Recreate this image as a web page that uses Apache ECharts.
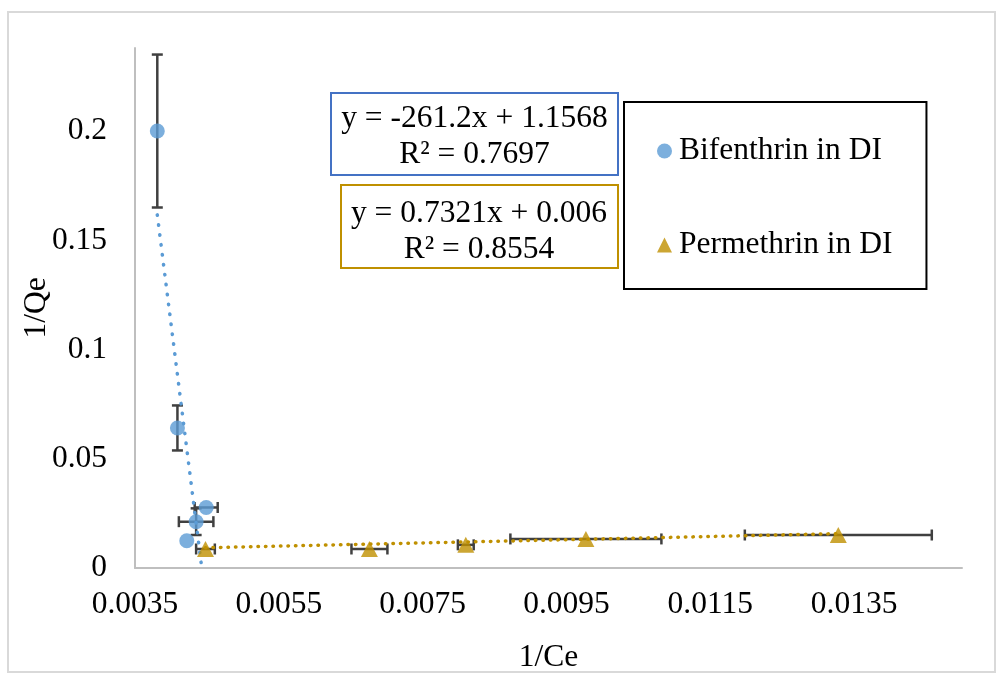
<!DOCTYPE html>
<html>
<head>
<meta charset="utf-8">
<script src="https://cdn.jsdelivr.net/npm/echarts@6/dist/echarts.min.js"></script>
<style>
  html, body { margin: 0; padding: 0; background: #fff; }
  #chart { width: 1002px; height: 676px; }
</style>
</head>
<body>
<div id="chart"></div>
<script>
// Series names
const seriesNames = ['Bifenthrin in DI', 'Permethrin in DI'];

// Bifenthrin in DI: 1/Ce, 1/Qe and their error half-widths
const bifX    = [0.00381, 0.00409, 0.00449, 0.00435, 0.00422];
const bifY    = [0.2, 0.0641, 0.0277, 0.0212, 0.0125];
const bifXErr = [0, 0, 0.00016, 0.00024, 0];
const bifYErr = [0.035, 0.0103, 0, 0.0061, 0];

// Permethrin in DI
const permX    = [0.00448, 0.00676, 0.00810, 0.00977, 0.01328];
const permY    = [0.0087, 0.0087, 0.0106, 0.0133, 0.0151];
const permXErr = [0.00013, 0.00025, 0.00011, 0.00105, 0.0013];
const permYErr = [0, 0, 0, 0, 0];

// Linear fits: slope, intercept, R²
const bifFit  = [-261.2, 1.1568, 0.7697];
const permFit = [0.7321, 0.006, 0.8554];

// Axis ranges and steps
const xAxisRange = [0.0035, 0.015];
const xStep = 0.002;
const yAxisRange = [0, 0.238];
const yStep = 0.05;

const SERIF = '"Liberation Serif", "Times New Roman", serif';
const FS = 31.5;
const BLUE = '#5B9BD5';
const GOLD = '#BF9000';
const ERR = '#404040';

function points(xs, ys) { return xs.map((x, i) => [x, ys[i]]); }
function errRows(xs, ys, ex, ey) { return xs.map((x, i) => [x, ys[i], ex[i], ey[i]]); }
function fitLine(xs, fit) {
  const lo = Math.min(...xs), hi = Math.max(...xs);
  return [[lo, fit[0] * lo + fit[1]], [hi, fit[0] * hi + fit[1]]];
}
function eqText(fit) {
  return 'y = ' + fit[0] + 'x + ' + fit[1] + '\nR\u00B2 = ' + fit[2];
}

// Error bars with end caps, in both directions
function errorBars(params, api) {
  const x = api.value(0), y = api.value(1), ex = api.value(2), ey = api.value(3);
  const c = api.coord([x, y]);
  const st = { stroke: ERR, lineWidth: 2.5 };
  const cap = 5.5;
  const kids = [];
  if (ey > 0) {
    const t = api.coord([x, y + ey])[1], b = api.coord([x, y - ey])[1];
    kids.push({ type: 'line', shape: { x1: c[0], y1: t, x2: c[0], y2: b }, style: st });
    kids.push({ type: 'line', shape: { x1: c[0] - cap, y1: t, x2: c[0] + cap, y2: t }, style: st });
    kids.push({ type: 'line', shape: { x1: c[0] - cap, y1: b, x2: c[0] + cap, y2: b }, style: st });
  }
  if (ex > 0) {
    const l = api.coord([x - ex, y])[0], r = api.coord([x + ex, y])[0];
    kids.push({ type: 'line', shape: { x1: l, y1: c[1], x2: r, y2: c[1] }, style: st });
    kids.push({ type: 'line', shape: { x1: l, y1: c[1] - cap, x2: l, y2: c[1] + cap }, style: st });
    kids.push({ type: 'line', shape: { x1: r, y1: c[1] - cap, x2: r, y2: c[1] + cap }, style: st });
  }
  return { type: 'group', children: kids };
}

function numLabel(v) { return String(+(+v).toFixed(4)); }

const chart = echarts.init(document.getElementById('chart'), null, { renderer: 'canvas' });

chart.setOption({
  animation: false,
  backgroundColor: '#fff',
  grid: { left: 135, top: 48, right: 40, bottom: 108, containLabel: false, outerBoundsMode: 'none' },
  xAxis: {
    type: 'value',
    min: xAxisRange[0], max: xAxisRange[1], interval: xStep,
    name: '1/Ce', nameLocation: 'middle', nameGap: 74, nameMoveOverlap: false,
    nameTextStyle: { fontFamily: SERIF, fontSize: FS, color: '#000' },
    axisLine: { show: true, lineStyle: { color: '#BFBFBF', width: 2 } },
    axisTick: { show: false },
    splitLine: { show: false },
    axisLabel: {
      fontFamily: SERIF, fontSize: FS, color: '#000', margin: 21,
      showMaxLabel: false, formatter: v => (+v).toFixed(4)
    }
  },
  yAxis: {
    type: 'value',
    min: yAxisRange[0], max: yAxisRange[1], interval: yStep,
    name: '1/Qe', nameLocation: 'middle', nameGap: 82, nameMoveOverlap: false,
    nameTextStyle: { fontFamily: SERIF, fontSize: FS, color: '#000' },
    axisLine: { show: true, lineStyle: { color: '#BFBFBF', width: 2 } },
    axisTick: { show: false },
    splitLine: { show: false },
    axisLabel: {
      fontFamily: SERIF, fontSize: FS, color: '#000', margin: 28,
      showMaxLabel: false, formatter: numLabel
    }
  },
  legend: {
    data: seriesNames,
    orient: 'vertical',
    left: 624, top: 102,
    padding: [33, 34, 28, 33],
    itemGap: 62, itemWidth: 15, itemHeight: 15,
    borderColor: '#000', borderWidth: 2, backgroundColor: '#fff',
    selectedMode: false,
    textStyle: { fontFamily: SERIF, fontSize: FS, color: '#000', lineHeight: 31, padding: [0, 0, 0, 2] }
  },
  graphic: [
    { type: 'rect', shape: { x: 8, y: 12, width: 987, height: 660 },
      style: { fill: 'none', stroke: '#D9D9D9', lineWidth: 2 }, silent: true, z: -10 },
    { type: 'rect', shape: { x: 331, y: 93, width: 287, height: 82 },
      style: { fill: '#fff', stroke: '#4472C4', lineWidth: 2 }, z: 100 },
    { type: 'text', x: 474.5, y: 137, z: 101,
      style: { text: eqText(bifFit), fill: '#000', fontFamily: SERIF, fontSize: FS,
               lineHeight: 36, align: 'center', verticalAlign: 'middle' } },
    { type: 'rect', shape: { x: 341, y: 185, width: 277, height: 83 },
      style: { fill: '#fff', stroke: GOLD, lineWidth: 2 }, z: 100 },
    { type: 'text', x: 479, y: 232, z: 101,
      style: { text: eqText(permFit), fill: '#000', fontFamily: SERIF, fontSize: FS,
               lineHeight: 36, align: 'center', verticalAlign: 'middle' } }
  ],
  series: [
    { name: 'bif-err', type: 'custom', renderItem: errorBars, data: errRows(bifX, bifY, bifXErr, bifYErr),
      encode: { x: 0, y: 1 }, z: 1, silent: true },
    { name: 'perm-err', type: 'custom', renderItem: errorBars, data: errRows(permX, permY, permXErr, permYErr),
      encode: { x: 0, y: 1 }, z: 1, silent: true },
    { name: 'bif-fit', type: 'line', data: fitLine(bifX, bifFit), symbol: 'none', clip: true, silent: true, z: 2,
      lineStyle: { color: BLUE, width: 3.5, type: [0.5, 9.5], cap: 'round' } },
    { name: 'perm-fit', type: 'line', data: fitLine(permX, permFit), symbol: 'none', clip: true, silent: true, z: 2,
      lineStyle: { color: GOLD, width: 3.5, type: [0.5, 7], cap: 'round' } },
    { name: seriesNames[0], type: 'scatter', data: points(bifX, bifY), symbol: 'circle', symbolSize: 15,
      itemStyle: { color: BLUE }, z: 3 },
    { name: seriesNames[1], type: 'scatter', data: points(permX, permY), symbol: 'triangle', symbolSize: [17, 16],
      itemStyle: { color: GOLD }, z: 3 }
  ]
});
</script>
</body>
</html>
